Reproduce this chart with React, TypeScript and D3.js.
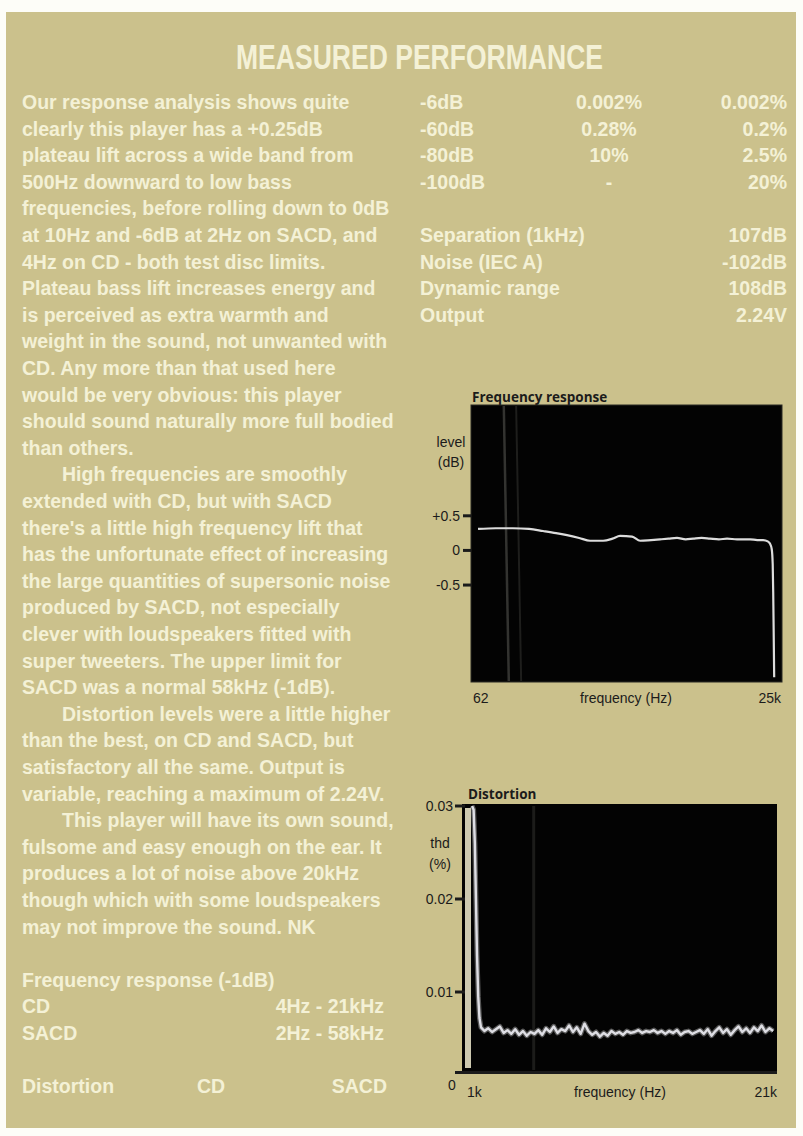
import React from "react";
import * as d3 from "d3";

// ---------- page geometry ----------
const W = 803;
const H = 1136;

// ---------- copy ----------
const TITLE = "MEASURED PERFORMANCE";

const BODY_LINES = [
  "Our response analysis shows quite",
  "clearly this player has a +0.25dB",
  "plateau lift across a wide band from",
  "500Hz downward to low bass",
  "frequencies, before rolling down to 0dB",
  "at 10Hz and -6dB at 2Hz on SACD, and",
  "4Hz on CD - both test disc limits.",
  "Plateau bass lift increases energy and",
  "is perceived as extra warmth and",
  "weight in the sound, not unwanted with",
  "CD. Any more than that used here",
  "would be very obvious: this player",
  "should sound naturally more full bodied",
  "than others.",
  "High frequencies are smoothly",
  "extended with CD, but with SACD",
  "there's a little high frequency lift that",
  "has the unfortunate effect of increasing",
  "the large quantities of supersonic noise",
  "produced by SACD, not especially",
  "clever with loudspeakers fitted with",
  "super tweeters. The upper limit for",
  "SACD was a normal 58kHz (-1dB).",
  "Distortion levels were a little higher",
  "than the best, on CD and SACD, but",
  "satisfactory all the same. Output is",
  "variable, reaching a maximum of 2.24V.",
  "This player will have its own sound,",
  "fulsome and easy enough on the ear. It",
  "produces a lot of noise above 20kHz",
  "though which with some loudspeakers",
  "may not improve the sound. NK",
];
// paragraph openings (0-based line index)
const INDENTED_LINES = [14, 23, 27];

const FR_SPEC_TITLE = "Frequency response (-1dB)";
const FR_SPEC_ROWS = [
  ["CD", "4Hz - 21kHz"],
  ["SACD", "2Hz - 58kHz"],
];

const DIST_HEADER = ["Distortion", "CD", "SACD"];
const DIST_ROWS = [
  ["-6dB", "0.002%", "0.002%"],
  ["-60dB", "0.28%", "0.2%"],
  ["-80dB", "10%", "2.5%"],
  ["-100dB", "-", "20%"],
];

const SPEC_ROWS = [
  ["Separation (1kHz)", "107dB"],
  ["Noise (IEC A)", "-102dB"],
  ["Dynamic range", "108dB"],
  ["Output", "2.24V"],
];

// ---------- frequency response graph ----------
const FR_TITLE = "Frequency response";
const FR_FREQ_HZ = [
  71, 100, 139, 190, 249, 320, 395, 500, 617, 793, 950, 1100, 1387, 1618,
  2000, 2380, 2800, 3300, 3900, 4500, 5300, 6240, 7400, 8660, 10500, 13500,
  15500, 17400, 19000, 19800, 20500, 20900, 21100, 21300, 21500,
];
const FR_LEVEL_DB = [
  0.31, 0.32, 0.32, 0.31, 0.28, 0.25, 0.22, 0.18, 0.14, 0.14, 0.17, 0.21,
  0.2, 0.14, 0.15, 0.16, 0.17, 0.18, 0.16, 0.17, 0.18, 0.17, 0.16, 0.17,
  0.16, 0.16, 0.15, 0.15, 0.13, 0.1, 0.02, -0.2, -0.6, -1.2, -1.83,
];
const FR_TICKS = [0.5, 0, -0.5];
const FR_TICK_LABELS = ["+0.5", "0", "-0.5"];
const FR_Y_TITLE = ["level", "(dB)"];
const FR_X_LABELS = ["62", "frequency (Hz)", "25k"];
const FR_DOMAIN_HZ = [62, 25000];
const FR_DOMAIN_DB = [-1.9, 2.1];
const FR_STREAKS_HZ = [119, 151];

// ---------- distortion graph ----------
const THD_TITLE = "Distortion";
const THD_FREQ_KHZ = [
  1.2, 1.3, 1.38, 1.45, 1.52, 1.6, 1.68, 1.78,
  2.0, 2.25, 2.5, 2.75, 3.0, 3.25, 3.5, 3.75, 4.0, 4.25, 4.5, 4.75,
  5.0, 5.25, 5.5, 5.75, 6.0, 6.25, 6.5, 6.75, 7.0, 7.25, 7.5, 7.75,
  8.0, 8.25, 8.5, 8.75, 9.0, 9.25, 9.5, 9.75, 10.0, 10.25, 10.5, 10.75,
  11.0, 11.25, 11.5, 11.75, 12.0, 12.25, 12.5, 12.75, 13.0, 13.25, 13.5,
  13.75, 14.0, 14.25, 14.5, 14.75, 15.0, 15.25, 15.5, 15.75, 16.0, 16.25,
  16.5, 16.75, 17.0, 17.25, 17.5, 17.75, 18.0, 18.25, 18.5, 18.75, 19.0,
  19.25, 19.5, 19.75, 20.0, 20.25, 20.5, 20.75,
];
const THD_PCT = [
  0.03, 0.0296, 0.026, 0.02, 0.014, 0.0095, 0.0072, 0.0062,
  0.0058, 0.0061, 0.0057, 0.006, 0.0063, 0.0056, 0.0059, 0.0055, 0.006,
  0.0054, 0.0058, 0.0053, 0.0057, 0.0055, 0.0059, 0.0054, 0.0061, 0.0057,
  0.0063, 0.0056, 0.006, 0.0058, 0.0064, 0.0057, 0.0062, 0.0055, 0.0066,
  0.0058, 0.0054, 0.0057, 0.0052, 0.0056, 0.0053, 0.0058, 0.0055, 0.0057,
  0.0054, 0.0058, 0.0056, 0.0057, 0.0059, 0.0056, 0.0058, 0.0057, 0.0059,
  0.0056, 0.0058, 0.0055, 0.0058, 0.0056, 0.0059, 0.0054, 0.0057, 0.0058,
  0.0055, 0.0057, 0.0059, 0.0055, 0.006, 0.0053, 0.0058, 0.0062, 0.0056,
  0.006, 0.0054, 0.0059, 0.0063, 0.0057, 0.0061, 0.0056, 0.0062, 0.0058,
  0.0064, 0.0057, 0.0061, 0.0058,
];
const THD_TICKS = [0.03, 0.02, 0.01];
const THD_TICK_LABELS = ["0.03", "0.02", "0.01"];
const THD_ZERO_LABEL = "0";
const THD_Y_TITLE = ["thd", "(%)"];
const THD_X_LABELS = ["1k", "frequency (Hz)", "21k"];
const THD_DOMAIN_KHZ = [1, 21];
const THD_DOMAIN_PCT = [0, 0.03];
const THD_STREAKS_KHZ = [5.2];

// ---------- styling ----------
const PANEL = "#cbc18c";
const CREAM = "#f4f1d6";
const INK = "#1b1b1b";
const BODY_FONT = "'Liberation Sans', Arial, sans-serif";
const GRAPH_FONT = "'Liberation Sans', Arial, sans-serif";
const GRAPH_TITLE_FONT = "'Open Sans', 'Noto Sans', sans-serif";

const LINE0 = 109;
const LEADING = 26.6;
const lineY = (i: number) => LINE0 + i * LEADING;

export default function App() {
  // frequency response plot area
  const fr = { x0: 471, x1: 782, y0: 405, y1: 682 };
  const frX = d3.scaleLog().domain(FR_DOMAIN_HZ).range([fr.x0, fr.x1]);
  const frY = d3.scaleLinear().domain(FR_DOMAIN_DB).range([fr.y1, fr.y0]);
  const frPts = FR_FREQ_HZ.map((f, i) => [f, FR_LEVEL_DB[i]] as [number, number]);
  const frPath =
    d3
      .line<[number, number]>()
      .x((d) => frX(d[0]))
      .y((d) => frY(d[1]))
      .curve(d3.curveMonotoneX)(frPts) || "";

  // distortion plot area
  const th = { x0: 462, x1: 777, y0: 804, y1: 1074, yZero: 1085, yTop: 806 };
  const thX = d3.scaleLinear().domain(THD_DOMAIN_KHZ).range([469, th.x1]);
  const thY = d3.scaleLinear().domain(THD_DOMAIN_PCT).range([th.yZero, th.yTop]);
  const thPts = THD_FREQ_KHZ.map((f, i) => [f, THD_PCT[i]] as [number, number]);
  const thPath =
    d3
      .line<[number, number]>()
      .x((d) => thX(d[0]))
      .y((d) => thY(d[1]))(thPts) || "";

  const bodyText = {
    fill: CREAM,
    fontFamily: BODY_FONT,
    fontWeight: 700,
    fontSize: 19.5,
  } as const;
  const graphText = { fill: INK, fontFamily: GRAPH_FONT, fontSize: 14 } as const;

  return (
    <svg
      width={W}
      height={H}
      viewBox={`0 0 ${W} ${H}`}
      style={{ display: "block", position: "absolute", left: 0, top: 0, background: "#fdfdf8" }}
    >
      <rect x={6} y={12} width={790} height={1116} fill={PANEL} />

      {/* heading */}
      <text
        x={236}
        y={69}
        textLength={367}
        lengthAdjust="spacingAndGlyphs"
        style={{ ...bodyText, fontSize: 35 }}
      >
        {TITLE}
      </text>

      {/* left column copy */}
      <g>
        {BODY_LINES.map((t, i) => (
          <text key={i} x={INDENTED_LINES.includes(i) ? 62 : 22} y={lineY(i)} style={bodyText}>
            {t}
          </text>
        ))}
        <text x={22} y={lineY(33)} style={bodyText}>
          {FR_SPEC_TITLE}
        </text>
        {FR_SPEC_ROWS.map((r, i) => (
          <g key={i}>
            <text x={22} y={lineY(34 + i)} style={bodyText}>
              {r[0]}
            </text>
            <text x={384} y={lineY(34 + i)} textAnchor="end" style={bodyText}>
              {r[1]}
            </text>
          </g>
        ))}
        <text x={22} y={lineY(37)} style={bodyText}>
          {DIST_HEADER[0]}
        </text>
        <text x={211} y={lineY(37)} textAnchor="middle" style={bodyText}>
          {DIST_HEADER[1]}
        </text>
        <text x={387} y={lineY(37)} textAnchor="end" style={bodyText}>
          {DIST_HEADER[2]}
        </text>
      </g>

      {/* right column tables */}
      <g>
        {DIST_ROWS.map((r, i) => (
          <g key={i}>
            <text x={420} y={lineY(i)} style={bodyText}>
              {r[0]}
            </text>
            <text x={609} y={lineY(i)} textAnchor="middle" style={bodyText}>
              {r[1]}
            </text>
            <text x={787} y={lineY(i)} textAnchor="end" style={bodyText}>
              {r[2]}
            </text>
          </g>
        ))}
        {SPEC_ROWS.map((r, i) => (
          <g key={i}>
            <text x={420} y={lineY(5 + i)} style={bodyText}>
              {r[0]}
            </text>
            <text x={787} y={lineY(5 + i)} textAnchor="end" style={bodyText}>
              {r[1]}
            </text>
          </g>
        ))}
      </g>

      {/* frequency response graph */}
      <g>
        <text
          x={472}
          y={402}
          style={{ fill: INK, fontFamily: GRAPH_TITLE_FONT, fontWeight: 700, fontSize: 13.5 }}
        >
          {FR_TITLE}
        </text>
        <rect
          x={fr.x0}
          y={fr.y0}
          width={fr.x1 - fr.x0}
          height={fr.y1 - fr.y0}
          fill="#030303"
          stroke="#2a2a24"
          strokeWidth={1}
        />
        {FR_STREAKS_HZ.map((f, i) => (
          <line
            key={i}
            x1={frX(f) - 1}
            x2={frX(f) + 4}
            y1={fr.y0 + 1}
            y2={fr.y1 - 1}
            stroke={i === 0 ? "#333330" : "#1e1e1c"}
            strokeWidth={i === 0 ? 2.5 : 2}
          />
        ))}
        {FR_TICKS.map((t, i) => (
          <g key={i}>
            <line x1={fr.x0 - 8} x2={fr.x0} y1={frY(t)} y2={frY(t)} stroke={INK} strokeWidth={3} />
            <text x={fr.x0 - 11} y={frY(t) + 5} textAnchor="end" style={graphText}>
              {FR_TICK_LABELS[i]}
            </text>
          </g>
        ))}
        <text x={451} y={447} textAnchor="middle" style={graphText}>
          {FR_Y_TITLE[0]}
        </text>
        <text x={451} y={467} textAnchor="middle" style={graphText}>
          {FR_Y_TITLE[1]}
        </text>
        <path d={frPath} fill="none" stroke="#dcdcdc" strokeWidth={2.2} strokeLinejoin="round" />
        <text x={473} y={703} style={graphText}>
          {FR_X_LABELS[0]}
        </text>
        <text x={626} y={703} textAnchor="middle" style={graphText}>
          {FR_X_LABELS[1]}
        </text>
        <text x={781} y={703} textAnchor="end" style={graphText}>
          {FR_X_LABELS[2]}
        </text>
      </g>

      {/* distortion graph */}
      <g>
        <text
          x={468}
          y={799}
          style={{ fill: INK, fontFamily: GRAPH_TITLE_FONT, fontWeight: 700, fontSize: 13.5 }}
        >
          {THD_TITLE}
        </text>
        <rect x={th.x0} y={th.y0} width={th.x1 - th.x0} height={th.y1 - th.y0} fill="#030303" />
        <rect x={465} y={th.y0 + 4} width={6} height={th.y1 - th.y0 - 10} fill="#cdc9b0" />
        <line x1={455} x2={th.x1} y1={th.y1 - 1.5} y2={th.y1 - 1.5} stroke={INK} strokeWidth={3} />
        {THD_STREAKS_KHZ.map((f, i) => (
          <line
            key={i}
            x1={thX(f)}
            x2={thX(f)}
            y1={th.y0 + 2}
            y2={th.y1 - 4}
            stroke="#1c1c1a"
            strokeWidth={3}
          />
        ))}
        {THD_TICKS.map((t, i) => (
          <g key={i}>
            <line x1={455} x2={465} y1={thY(t)} y2={thY(t)} stroke={INK} strokeWidth={3} />
            <text x={453} y={thY(t) + 5} textAnchor="end" style={graphText}>
              {THD_TICK_LABELS[i]}
            </text>
          </g>
        ))}
        <text x={452} y={thY(0) + 5} textAnchor="middle" style={graphText}>
          {THD_ZERO_LABEL}
        </text>
        <text x={440} y={848} textAnchor="middle" style={graphText}>
          {THD_Y_TITLE[0]}
        </text>
        <text x={440} y={869} textAnchor="middle" style={graphText}>
          {THD_Y_TITLE[1]}
        </text>
        <path d={thPath} fill="none" stroke="#bdbdbd" strokeOpacity={0.45} strokeWidth={5} strokeLinejoin="round" />
        <path d={thPath} fill="none" stroke="#dedee4" strokeWidth={2.4} strokeLinejoin="round" />
        <text x={467} y={1097} style={graphText}>
          {THD_X_LABELS[0]}
        </text>
        <text x={620} y={1097} textAnchor="middle" style={graphText}>
          {THD_X_LABELS[1]}
        </text>
        <text x={777} y={1097} textAnchor="end" style={graphText}>
          {THD_X_LABELS[2]}
        </text>
      </g>
    </svg>
  );
}
